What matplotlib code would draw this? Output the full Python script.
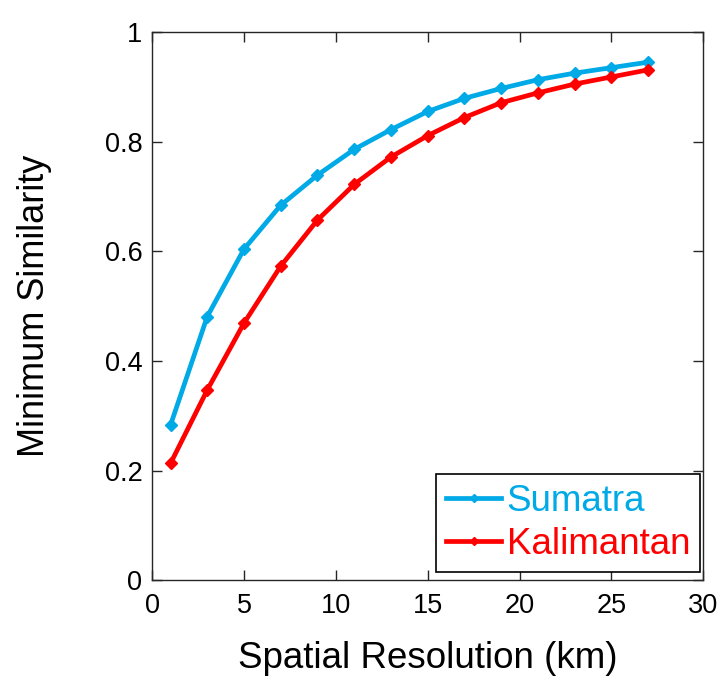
import matplotlib
matplotlib.use("Agg")
import matplotlib.pyplot as plt

plt.rcParams['font.family'] = ['Liberation Sans', 'DejaVu Sans']

# data
resolution_km = [1, 3, 5, 7, 9, 11, 13, 15, 17, 19, 21, 23, 25, 27]
sumatra = [0.283, 0.481, 0.604, 0.684, 0.739, 0.786, 0.822, 0.855, 0.879,
           0.897, 0.913, 0.925, 0.935, 0.945]
kalimantan = [0.213, 0.347, 0.469, 0.573, 0.657, 0.722, 0.772, 0.811, 0.844,
              0.871, 0.889, 0.905, 0.918, 0.931]
x_ticks = [0, 5, 10, 15, 20, 25, 30]
y_ticks = [0, 0.2, 0.4, 0.6, 0.8, 1]
y_tick_labels = ['0', '0.2', '0.4', '0.6', '0.8', '1']

blue = '#00AAE6'
red = '#FF0000'
axis_col = '#262626'

fig = plt.figure(figsize=(7.28, 6.81), dpi=100)
ax = fig.add_axes([0.209, 0.148, 0.757, 0.805])

ax.plot(resolution_km, sumatra, color=blue, lw=3.4, marker='D', ms=6,
        label='Sumatra')
ax.plot(resolution_km, kalimantan, color=red, lw=3.4, marker='D', ms=6,
        label='Kalimantan')

ax.set_xlim(0, 30)
ax.set_ylim(0, 1)
ax.set_xticks(x_ticks)
ax.set_yticks(y_ticks)
ax.set_yticklabels(y_tick_labels)
ax.tick_params(direction='in', top=True, right=True, length=7, width=1,
               labelsize=19.5, colors=axis_col, labelcolor='black')
ax.tick_params(axis='x', pad=9)
ax.tick_params(axis='y', pad=7)
for s in ax.spines.values():
    s.set_color(axis_col)
    s.set_linewidth(1)

ax.set_xlabel('Spatial Resolution (km)', fontsize=26.5, labelpad=16)
ax.set_ylabel('Minimum Similarity', fontsize=26, labelpad=38)

leg = ax.legend(loc='lower right', bbox_to_anchor=(0.995, 0.015),
                fontsize=26.5, fancybox=False, framealpha=1,
                edgecolor='black', handlelength=1.5, handletextpad=0.15,
                borderaxespad=0, borderpad=0.28, labelspacing=0.2,
                markerscale=0.7)
leg.get_frame().set_linewidth(1.2)
for txt, col in zip(leg.get_texts(), [blue, red]):
    txt.set_color(col)

fig.savefig('out.png', dpi=100)
